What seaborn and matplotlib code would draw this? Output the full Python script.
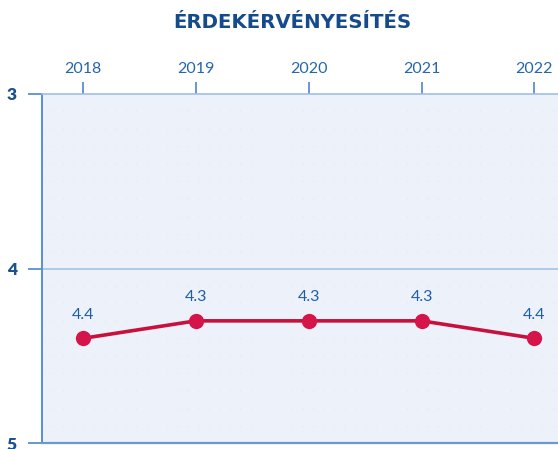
import matplotlib
matplotlib.use("Agg")
import matplotlib.pyplot as plt
import seaborn as sns
import pandas as pd
from matplotlib.ticker import MultipleLocator

years = ["2018", "2019", "2020", "2021", "2022"]
values = [4.4, 4.3, 4.3, 4.3, 4.4]
labels = ["4.4", "4.3", "4.3", "4.3", "4.4"]
title = "ÉRDEKÉRVÉNYESÍTÉS"
yticks = [3, 4, 5]

df = pd.DataFrame({"year": years, "value": values})

sns.set_theme(style="white")
plt.rcParams["font.family"] = ["Lato", "DejaVu Sans"]

fig = plt.figure(figsize=(5.58, 4.49), dpi=100)
ax = fig.add_axes([42/558, 1-443/449, 1-42/558, (443-94)/449])
ax.set_facecolor("#edf2fa")

line_col = "#c8103e"
sns.lineplot(data=df, x="year", y="value", ax=ax, color=line_col, linewidth=2.6,
             marker="o", markersize=11, markeredgewidth=0, markerfacecolor="#d5144a",
             sort=False)

ax.set_xlim(-0.365, 4.21)
ax.set_ylim(5, 3)
ax.set_yticks(yticks)
ax.set_yticklabels([str(t) for t in yticks])
ax.yaxis.set_minor_locator(MultipleLocator(0.1))
ax.grid(which="minor", axis="y", color="#dfe6f1", linestyle=(0, (0.5, 7)), linewidth=1.0)
ax.axhline(4, color="#a9c6e6", linewidth=1.3, zorder=1)

ax.xaxis.tick_top()
ax.set_xlabel("")
ax.set_ylabel("")
ax.tick_params(axis="x", which="major", direction="out", length=9, width=1.3,
               color="#5b8fd0", labelcolor="#2466ad", labelsize=11.5, pad=4, top=True, bottom=False)
ax.tick_params(axis="y", which="major", direction="out", length=10, width=1.3,
               color="#5b8fd0", labelcolor="#1b4f8e", labelsize=12.5, pad=8, left=True)
ax.tick_params(axis="y", which="minor", length=0)
for lab in ax.get_yticklabels():
    lab.set_fontweight("heavy")

ax.spines["left"].set_color("#5b8fd0")
ax.spines["left"].set_linewidth(1.4)
ax.spines["bottom"].set_color("#6a98d2")
ax.spines["bottom"].set_linewidth(1.6)
ax.spines["top"].set_color("#9fbfe4")
ax.spines["top"].set_linewidth(1.2)
ax.spines["right"].set_visible(False)

for i, (v, t) in enumerate(zip(values, labels)):
    ax.annotate(t, (i, v), xytext=(0, 12), textcoords="offset points",
                ha="center", va="bottom", color="#1f5ea6", fontsize=11.5)

fig.text(292/558, 1-23/449, title, ha="center", va="center", color="#154a8c",
         fontsize=14.2, fontweight="bold", family=["DejaVu Sans"])

fig.savefig("out.png", dpi=100)
